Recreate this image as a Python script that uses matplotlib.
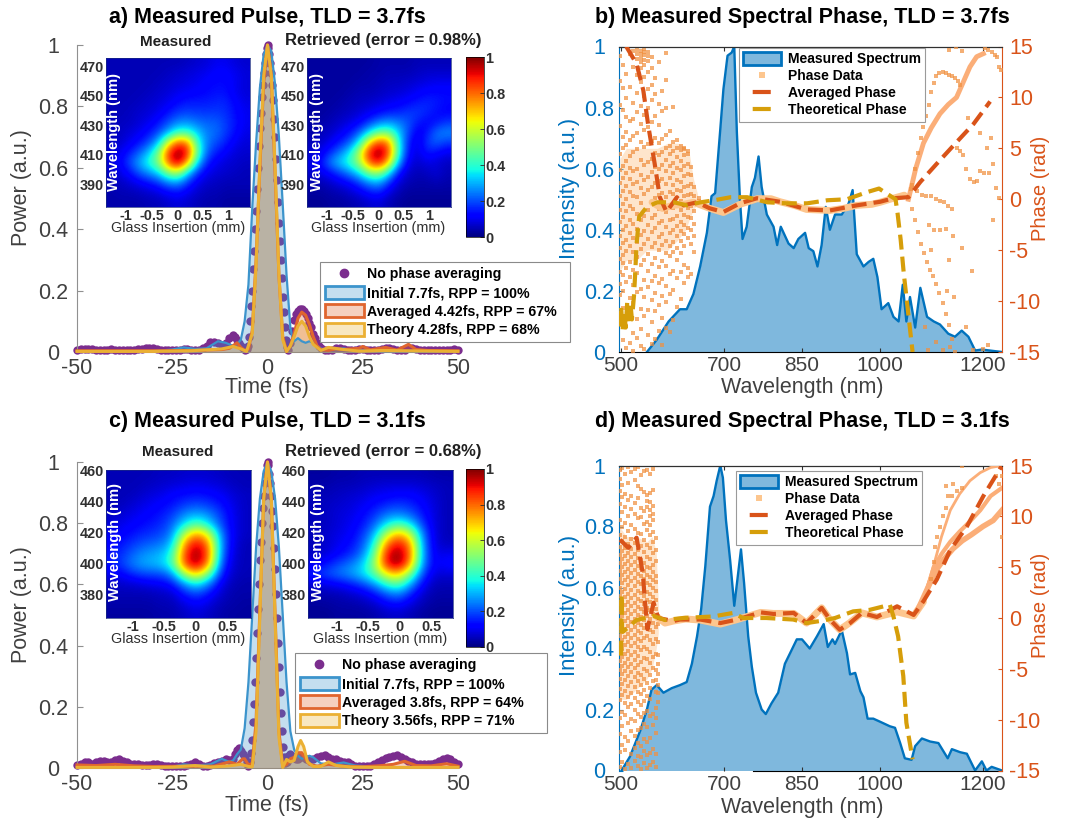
import numpy as np
import matplotlib
matplotlib.use('Agg')
import matplotlib.pyplot as plt
from matplotlib.lines import Line2D
from matplotlib.patches import Patch
from matplotlib.cm import ScalarMappable
from matplotlib.colors import Normalize, to_rgba

plt.rcParams['font.family'] = ['Liberation Sans', 'DejaVu Sans']
plt.rcParams['axes.unicode_minus'] = False

W, H = 1070, 819
BLUE = '#0072BD'; ORANGE = '#D95319'; GOLD = '#D69E0A'
C_INIT = '#3C94CC'; C_AVG = '#E0652E'; C_THE = '#EBB033'; C_PUR = '#7B2D8E'
GRAY = '#404040'
PH_C = '#F09040'

# ---------- pulses (time fs, power) ----------
initial_a = [(-50,.003),(-40,.003),(-30,.003),(-25,.008),(-22,.015),(-19,.01),(-16,.012),(-13,.035),(-11,.03),(-9,.02),(-8,.025),(-7,.04),(-6,.1),(-5,.22),(-4,.47),(-3,.68),(-2,.86),(-1,.97),(0,1),(1,.98),(2,.87),(3,.7),(4,.48),(5,.25),(6,.08),(6.5,.05),(7,.035),(8,.045),(9,.035),(10,.03),(11,.035),(12,.03),(14,.012),(16,.004),(20,.012),(22,.006),(30,.003),(50,.002)]
averaged_a = [(-50,.004),(-30,.004),(-20,.005),(-12,.008),(-10,.012),(-8,.03),(-7,.015),(-6,.005),(-5,.01),(-4,.07),(-3,.3),(-2,.6),(-1,.88),(0,1),(1,.9),(2,.58),(3,.25),(4,.05),(5,.002),(6,.02),(7,.06),(8,.11),(9,.13),(10,.12),(11,.09),(12,.05),(13,.02),(14,.008),(16,.005),(18,.01),(20,.008),(24,.012),(25,.018),(27,.007),(31,.015),(34,.006),(37,.025),(39,.008),(42,.005),(50,.004)]
theory_a = [(-50,.002),(-30,.002),(-20,.004),(-12,.01),(-9,.018),(-7,.01),(-5.5,.002),(-4,.06),(-3,.28),(-2,.62),(-1,.9),(0,1),(1,.9),(2,.6),(3,.25),(4,.04),(5,.002),(6,.02),(7,.05),(8,.085),(9,.1),(10,.085),(11,.05),(12,.025),(14,.005),(16,.015),(20,.008),(24,.003),(30,.005),(50,.002)]
purple_a = [(-50,.008),(-49,.009),(-48,.01),(-47,.01),(-46,.009),(-45,.008),(-44,.008),(-43,.007),(-42,.008),(-41,.009),(-40,.008),(-39,.007),(-38,.007),(-37,.006),(-36,.007),(-35,.008),(-34,.009),(-33,.01),(-32,.012),(-31,.013),(-30,.012),(-29,.01),(-28,.008),(-27,.007),(-26,.006),(-25,.006),(-24,.007),(-23,.008),(-22,.009),(-21,.009),(-20,.008),(-19,.007),(-18,.008),(-17,.012),(-16,.02),(-15,.032),(-14,.034),(-13,.028),(-12,.024),(-11,.03),(-10,.045),(-9,.055),(-8.5,.05),(-8,.04),(-7.5,.028),(-7,.02),(-6.5,.012),(-6,.006),(-5.5,.01),(-5,.02),(-4.75,.05),(-4.5,.1),(-4.25,.15),(-4,.2),(-3.75,.27),(-3.5,.33),(-3.25,.4),(-3,.46),(-2.75,.53),(-2.5,.6),(-2.25,.67),(-2,.73),(-1.75,.78),(-1.5,.83),(-1.25,.87),(-1,.91),(-.75,.94),(-.5,.97),(-.25,.99),(0,1),(.25,.99),(.5,.97),(.75,.94),(1,.91),(1.25,.87),(1.5,.82),(1.75,.76),(2,.7),(2.25,.63),(2.5,.56),(2.75,.49),(3,.42),(3.25,.36),(3.5,.3),(3.75,.24),(4,.18),(4.25,.13),(4.5,.08),(4.75,.04),(5,.015),(5.5,.005),(6,.03),(6.5,.07),(7,.105),(7.5,.125),(8,.135),(8.5,.14),(9,.14),(9.5,.135),(10,.125),(10.5,.11),(11,.095),(11.5,.08),(12,.06),(12.5,.045),(13,.03),(13.5,.02),(14,.012),(15,.008),(16,.006),(17,.008),(18,.012),(19,.012),(20,.01),(21,.008),(22,.006),(23,.007),(24,.009),(25,.01),(26,.008),(27,.006),(28,.006),(29,.007),(30,.01),(31,.012),(32,.012),(33,.01),(34,.007),(35,.006),(36,.008),(37,.012),(38,.012),(39,.009),(40,.007),(41,.006),(42,.006),(43,.007),(44,.007),(45,.006),(46,.006),(47,.007),(48,.008),(49,.009),(50,.008)]

initial_c = [(-50,.003),(-35,.003),(-25,.004),(-22,.012),(-19,.008),(-15,.012),(-12,.03),(-10,.02),(-9,.025),(-8,.045),(-7,.06),(-6,.13),(-5,.28),(-4,.5),(-3,.72),(-2,.88),(-1,.97),(0,1),(1,.97),(2,.88),(3,.72),(4,.5),(5,.28),(6,.12),(7,.06),(8,.04),(9,.03),(10,.035),(11,.04),(12,.035),(14,.015),(17,.012),(20,.018),(23,.008),(30,.003),(50,.002)]
averaged_c = [(-50,.01),(-45,.008),(-40,.012),(-35,.007),(-30,.005),(-20,.006),(-14,.006),(-10,.02),(-8,.012),(-6.5,.03),(-6,.03),(-5,.01),(-4,.015),(-3,.15),(-2,.52),(-1,.88),(0,1),(1,.88),(2,.5),(3,.12),(4,.005),(5,.012),(6,.03),(7,.035),(8,.05),(9,.05),(10,.03),(11,.012),(13,.006),(16,.012),(20,.006),(25,.004),(30,.008),(33,.012),(36,.022),(39,.008),(43,.007),(47,.014),(50,.006)]
theory_c = [(-50,.002),(-30,.002),(-25,.003),(-19,.008),(-15,.003),(-10,.007),(-7,.012),(-5,.005),(-4,.004),(-3,.12),(-2,.5),(-1,.88),(0,1),(1,.88),(2,.48),(3,.1),(4,.002),(5,.028),(6,.02),(7,.025),(8,.07),(8.7,.09),(9.5,.07),(10.5,.02),(12,.005),(14,.005),(16,.02),(18,.008),(22,.003),(30,.002),(50,.002)]
purple_c = [(-50,.01),(-49,.014),(-48,.02),(-47,.018),(-46,.014),(-45,.018),(-44,.024),(-43,.024),(-42,.018),(-41,.02),(-40,.026),(-39,.028),(-38,.024),(-37,.018),(-36,.014),(-35,.012),(-34,.012),(-33,.01),(-32,.009),(-31,.01),(-30,.012),(-29,.012),(-28,.01),(-27,.008),(-26,.007),(-25,.006),(-24,.006),(-23,.007),(-22,.008),(-21,.009),(-20,.012),(-19,.018),(-18,.014),(-17,.008),(-16,.006),(-15,.01),(-14,.016),(-13,.02),(-12,.024),(-11,.028),(-10,.025),(-9,.03),(-8.5,.045),(-8,.06),(-7.5,.065),(-7,.055),(-6.5,.045),(-6,.035),(-5.5,.02),(-5,.008),(-4.5,.02),(-4.25,.05),(-4,.09),(-3.75,.15),(-3.5,.21),(-3.25,.28),(-3,.36),(-2.75,.44),(-2.5,.52),(-2.25,.6),(-2,.68),(-1.75,.74),(-1.5,.8),(-1.25,.85),(-1,.89),(-.75,.93),(-.5,.96),(-.25,.99),(0,1),(.25,.99),(.5,.96),(.75,.93),(1,.89),(1.25,.84),(1.5,.79),(1.75,.72),(2,.65),(2.25,.57),(2.5,.49),(2.75,.41),(3,.33),(3.25,.25),(3.5,.18),(3.75,.12),(4,.07),(4.25,.035),(4.5,.015),(5,.02),(5.5,.04),(6,.045),(6.5,.04),(7,.035),(7.5,.03),(8,.03),(8.5,.035),(9,.035),(10,.03),(11,.026),(12,.028),(13,.035),(14,.04),(15,.042),(16,.036),(17,.03),(18,.028),(19,.022),(20,.02),(21,.018),(22,.012),(23,.008),(24,.007),(25,.006),(26,.007),(27,.008),(28,.012),(29,.018),(30,.026),(31,.032),(32,.036),(33,.04),(34,.042),(35,.036),(36,.028),(37,.022),(38,.018),(39,.014),(40,.012),(41,.012),(42,.012),(43,.014),(44,.016),(45,.024),(46,.03),(47,.032),(48,.028),(49,.02),(50,.014)]

# ---------- spectra (wavelength nm, intensity) ----------
spectrum_b = [(550,0),(569,.04),(592,.10),(614,.14),(627,.14),(640,.19),(653,.28),(666,.39),(675,.51),(682,.52),(692,.73),(698,.86),(706,.97),(714,.98),(719,1),(724,.72),(730,.5),(735,.37),(743,.41),(753,.54),(759,.57),(766,.64),(772,.54),(782,.45),(795,.41),(802,.35),(809,.41),(824,.355),(834,.34),(843,.37),(856,.39),(863,.34),(872,.33),(880,.28),(888,.35),(896,.475),(904,.40),(914,.45),(927,.45),(940,.485),(948,.53),(956,.32),(969,.28),(979,.295),(988,.305),(996,.245),(1004,.14),(1017,.16),(1027,.115),(1037,.10),(1045,.22),(1052,.10),(1059,.18),(1069,.08),(1079,.21),(1092,.115),(1105,.10),(1117,.09),(1133,.06),(1146,.05),(1159,.07),(1172,.05),(1185,.005),(1198,.008),(1237,0)]
spectrum_d = [(501,0),(517,.045),(537,.13),(550,.2),(559,.265),(569,.28),(582,.255),(598,.27),(614,.28),(627,.29),(637,.35),(647,.44),(655,.53),(663,.67),(672,.865),(679,.90),(685,.95),(692,1),(697,.96),(703,.82),(711,.69),(719,.54),(725,.625),(732,.725),(738,.615),(746,.44),(753,.34),(761,.255),(772,.2),(780,.185),(791,.22),(804,.255),(817,.35),(830,.395),(840,.43),(850,.43),(865,.40),(879,.44),(892,.48),(900,.405),(909,.43),(914,.415),(927,.46),(937,.385),(943,.315),(953,.32),(963,.26),(969,.24),(977,.17),(988,.17),(1001,.16),(1020,.145),(1030,.14),(1040,.09),(1049,.04),(1062,.035),(1069,.08),(1082,.105),(1098,.095),(1114,.09),(1132,.04),(1140,.07),(1156,.06),(1169,.055),(1185,0),(1198,.03),(1207,0),(1217,.012),(1237,0)]

# ---------- phases (wavelength nm, rad) ----------
avg_phase_b = [(510,15),(530,13.3),(543,10.7),(553,7.1),(565,3.5),(575,.2),(588,-1.25),(608,.2),(621,-.6),(647,-.3),(672,-.9),(698,-1.25),(730,-.4),(763,.1),(808,-.25),(859,-1),(904,-1.1),(956,-.6),(1001,-.25),(1027,.1),(1056,.2),(1079,1.7),(1111,3.5),(1149,5.6),(1182,7.4),(1214,9.6)]
the_phase_b = [(498,-12.5),(500,-10.5),(503,-12.8),(506,-11),(509,-12.6),(512,-10),(515,-12.3),(518,-10.2),(521,-11.8),(525,-9.5),(527,-7.6),(530,-4.4),(535,-1.7),(550,-.75),(570,-.3),(602,-.3),(628,-.6),(654,-.3),(680,-.1),(712,.2),(744,.2),(783,-.3),(821,-.4),(860,-.4),(899,-.1),(937,0),(976,.7),(999,1.05),(1031,0),(1035,-1.4),(1041,-4),(1047,-7.3),(1054,-10.5),(1064,-15)]
avg_phase_d = [(498,7.7),(514,6.9),(530,7.9),(542,4.4),(546,1.8),(551,-1.1),(563,1.5),(572,0),(601,-.3),(614,-.15),(653,-.15),(692,-.5),(725,-.15),(770,.55),(795,.4),(834,.5),(859,-.5),(888,1),(904,-.15),(923,-1.15),(943,-.5),(966,.5),(995,.1),(1034,1.15),(1066,.3),(1085,1.65),(1111,3.8),(1137,6.7),(1169,9),(1201,12),(1237,15)]
the_phase_d = [(500,-3.7),(501,2.3),(502,-1.3),(505,-1.3),(530,-.2),(563,.2),(585,-.2),(620,0),(678,.15),(717,.5),(736,0),(781,0),(833,-.15),(859,-.5),(891,-.25),(914,0),(949,.65),(981,.8),(1020,1.3),(1027,.15),(1036,-1.8),(1046,-5.7),(1052,-10.3),(1064,-13.9)]
band_b = [(560,-.3),(580,-.9),(600,-.6),(620,-.5),(640,-.3),(672,-.9),(698,-1.3),(730,-.5),(763,.05),(790,.05),(808,-.25),(835,-.6),(859,-1),(904,-1.1),(930,-.9),(956,-.6),(985,-.5),(1001,-.3),(1027,.1),(1048,.4)]
band_d = [(570,.1),(585,-.5),(601,-.3),(625,-.1),(653,-.2),(692,-.6),(725,-.15),(770,.55),(795,.45),(834,.45),(859,-.5),(888,1),(904,-.15),(923,-1.15),(943,-.45),(966,.5),(995,.1),(1034,.6),(1066,.2),(1085,1.6)]
# dense part of the phase data at short wavelength (wavelength, low, high)
mass_b = [(498,-7,4),(510,-6,5),(530,-6,5),(550,-5,5),(570,-5,5),(590,-5,5.5),(610,-4,5.5),(625,-3,5),(632,-2,4.5),(640,-1,2),(648,-.5,.5)]
mass_d = [(497,-8,9),(510,-8,8),(530,-7,8),(550,-6,7.5),(560,-5,8),(568,-3,6.5),(572,-1.5,1.5)]

# phase data: dense traces on the long-wavelength side
trace_b_up = [(1056,0),(1070,3),(1085,5.5),(1100,7),(1117,8.4),(1133,9.3),(1149,10),(1162,11.5),(1175,13),(1188,14),(1201,14.3)]
trace_b_down = [(1056,.2),(1062,-1),(1068,-2),(1074,-3.2),(1080,-4.4),(1086,-5.3),(1092,-6.2),(1098,-6.9),(1104,-7.5),(1110,-8.3),(1116,-9.2),(1122,-10.2),(1128,-11.3),(1134,-12.3),(1140,-13.7),(1146,-15)]
trace_b_loop = [(1062,1.4),(1068,3),(1074,4.5),(1080,6),(1085,7.1),(1090,8.2),(1095,9.3),(1100,10.5),(1105,11.4),(1110,12.1),(1116,12.4),(1122,12.5),(1128,12.4),(1134,12.2),(1140,12.1),(1146,11.9),(1152,11.6),(1156,11.2)]
trace_b_low = [(1149,5),(1156,4.7),(1162,4.3),(1168,3),(1175,2),(1182,1.7),(1188,1.8),(1195,2.8),(1203,2.6),(1212,2.6),(1220,3.5),(1226,1.1),(1232,.1)]
sparse_b = [(1060,1),(1072,.8),(1082,.4),(1090,.3),(1100,.3),(1110,0),(1118,-.2),(1125,-.3),(1132,-.7),(1095,-2.5),(1106,-3),(1118,-3),(1128,-2.9),(1142,-3.6),(1160,-4.8),(1178,-7),(1100,-5),(1135,-6),(1145,-9.6),(1168,-12.5),(1200,-14.7),(1210,-14.3),(1220,-2),(1215,6),(1228,14),(1232,13),(1236,12.7),(1210,14.7),(1218,14.5),(1224,14.2),(1205,14.9),(1180,-14.8),(1148,15),(1135,14.7),(1160,14.6),(1172,8),(1195,6.5),(1208,5),(1140,-1),(1130,-9),(1137,-14.5),(1110,-14),(1123,-14.8),(1088,-12.5),(1094,-14.8)]
trace_d_up = [(1066,.3),(1079,1),(1092,3),(1105,5.2),(1120,8),(1137,10.6),(1155,12.2),(1175,13.5),(1195,14.3),(1215,14.8),(1237,15)]
trace_d_mid = [(1074,.8),(1092,2.8),(1105,5),(1120,6.3),(1137,7.5),(1155,8.5),(1175,9.5),(1195,10.6),(1215,12),(1237,12.8)]
trace_d_low = [(1074,.8),(1092,2.8),(1108,4.6),(1125,5.8),(1142,6.8),(1160,7.6),(1178,8.2),(1200,9),(1220,9.6),(1237,10.6)]
sparse_d = [(1100,3.8),(1105,5.5),(1108,7),(1112,8),(1118,9),(1122,10),(1128,10.8),(1133,12),(1128,13),(1143,13.2),(1150,12.5),(1160,12.8),(1237,8),(1237,14),(1232,13.2),(1226,14),(1160,15),(1140,12)]

# phase data: scattered columns at short wavelength, {wavelength: phases}
cols_b = {
 498:[-11.5,-9.4,-8.3,-7.1,-5.9,-4.8,-3.6,-2.2,-1.1,.3,1.6,2.9,4.4,7.2,9.3,11.6,14.1],
 503:[-13.8,-10.7,-9,-7.4,-6.3,-5.5,-4.3,-3,-1.7,-.5,.8,2.1,3.3,5,6.1,8.8,10.9,13.2],
 510:[-14.6,-12.4,-8.1,-6.8,-5.1,-4,-2.6,-1.2,0,1.3,2.6,3.8,5.3,6.6,8.1,9.9,12.3],
 517:[-14.1,-11.2,-9.7,-7.6,-6.2,-4.6,-3.3,-2,-.7,.7,2,3.1,4.2,5.8,7.7,11,14.3],
 524:[-14.9,-13.1,-10.2,-8.4,-6.9,-5.2,-3.8,-2.4,-1,.3,1.5,2.8,4.6,6.2,7.9,9.5,13,14.6],
 531:[-13.6,-11.8,-9.1,-7.2,-5.7,-4.2,-2.9,-1.4,.2,1.7,3,4.9,6.5,8.6,10.4,12.2,13.8,14.3,14.7],
 538:[-14.4,-12.7,-10.8,-8.8,-6.5,-4.9,-3.5,-2,-.4,1.1,2.4,3.9,5.6,7.4,9.2,11.5,12.9,13.5,13.9,14.3,14.6],
 545:[-14.7,-11.5,-9.6,-7.9,-6,-4.4,-3.1,-1.6,.5,1.9,3.4,5.1,6.8,8.3,10.1,12,13.2,13.7,14.2,14.5,14.8],
 552:[-13.3,-10.9,-8.6,-7,-5.4,-3.9,-2.5,-1.1,.9,2.2,3.7,5.4,7.1,9,10.8,12.5,13.6,14.1,14.5],
 559:[-14.2,-12.1,-9.9,-8,-6.4,-4.7,-3.2,-1.8,-.3,1.2,2.7,4,5.7,7.6,9.7,11.2,12.9,14],
 566:[-13.7,-11,-9.2,-7.5,-5.8,-4.3,-2.8,-1.5,.1,1.6,3.2,4.5,6,8.2,10.3,11.9],
 573:[-12.9,-10.4,-8.2,-6.7,-5,-3.7,-2.3,-1,.4,1.8,3,4.3,5.5,7.3,9.4,13.5],
 580:[-14.3,-11.7,-9.5,-7.8,-6.1,-4.5,-3.4,-2.1,-.8,.6,2,3.4,4.6,5.9,8.7,10.6],
 587:[-12.6,-10.1,-8.5,-6.6,-5.3,-4.1,-2.7,-1.3,.2,1.5,2.8,3.9,5,6.3,9,11.7,14.4],
 594:[-13,-9.3,-7.3,-5.6,-4.6,-3.3,-2,-.6,.7,2.1,3.3,4.4,5.2,6.7],
 601:[-11.9,-8.9,-7,-5.2,-4.2,-3,-1.9,-.9,.5,1.4,2.6,3.6,4.7,5.6,9.1],
 608:[-10.6,-7.7,-6,-4.8,-3.6,-2.6,-1.6,-.5,.9,1.9,3.1,4.1,5,5.8],
 615:[-9.8,-7.1,-5.3,-4.1,-3.1,-2.2,-1.1,-.2,.8,1.7,2.9,3.8,4.8,5.2],
 622:[-8.2,-6.5,-4.6,-3.4,-2.5,-1.5,-.6,.3,1.2,2.3,3.3,4.3,4.9,5],
 629:[-7.6,-6.8,-3.8,-2.8,-1.7,-.9,.4,1.3,2.5,3.5,4.4,4.7],
 636:[-7.3,-4.4,-3,-1.8,-.7,.5,1.5,2.4,3.2],
 642:[-5.2,-3.6,-2.4,-1.2,-.5,.3,1.2],
 650:[-.6,-.2,.1],
}
cols_d = {
 497:[-14.7,-13.2,-11.4,-9.8,-8.1,-7,-6,-5.1,-4.2,-3.4,-2.6,-1.8,-1,-.2,.6,1.4,2.2,3,3.8,4.6,5.4,6.2,7,8.2,9.6,11.2,12.5,13.7,14.6],
 502:[-14.2,-12.5,-10.6,-9.2,-7.6,-6.5,-5.5,-4.7,-3.8,-3,-2.2,-1.4,-.6,.2,1,1.8,2.6,3.4,4.2,5,5.8,6.6,7.6,9,10.4,11.9,13.1,14.8],
 508:[-14.9,-13,-11.7,-9.5,-8.4,-7.2,-6.1,-5.2,-4.4,-3.5,-2.7,-1.9,-1.1,-.3,.5,1.3,2.1,2.9,3.7,4.5,5.3,6.1,6.9,8,9.3,10.9,12.2,14.2],
 514:[-14.4,-12.1,-10.3,-8.8,-7.8,-6.7,-5.7,-4.8,-4,-3.2,-2.4,-1.6,-.8,0,.8,1.6,2.4,3.2,4,4.8,5.6,6.4,7.3,8.6,10,11.6,13.3,14.9],
 520:[-14.8,-13.4,-11.1,-9.9,-8.5,-7.4,-6.3,-5.3,-4.5,-3.6,-2.8,-2,-1.2,-.4,.4,1.2,2,2.8,3.6,4.4,5.2,6,6.8,7.8,9.1,10.7,12,14.4],
 526:[-14.1,-12.8,-11.6,-10.1,-9,-7.9,-6.8,-5.8,-4.9,-4.1,-3.3,-2.5,-1.7,-.9,-.1,.7,1.5,2.3,3.1,3.9,4.7,5.5,6.3,7.4,8.8,10.2,11.3,13.6,14.7],
 532:[-14.6,-13.6,-12.3,-11,-9.4,-8.3,-7.3,-6.2,-5.4,-4.6,-3.7,-2.9,-2.1,-1.3,-.5,.3,1.1,1.9,2.7,3.5,4.3,5.1,5.9,6.7,8.4,9.8,11.8,13,14.9],
 538:[-14.9,-13.7,-12.6,-10.8,-9.7,-8.6,-7.5,-6.6,-5.6,-4.3,-3.1,-2.3,-1.5,-.7,.1,.9,1.7,2.5,3.3,4.1,4.9,5.7,7.1,8.3,9.9,10.8,12.7,14.1],
 544:[-14.3,-13.1,-11.9,-10.4,-9.3,-8.2,-7.1,-6,-5,-3.9,-2.9,-2,-1,-.2,.6,1.4,2.2,3,3.8,4.6,5.4,6.5,7.7,9.2,10.5,12.4,14.5],
 550:[-14.8,-13.5,-12.2,-10.7,-9.1,-7.7,-6.4,-5.2,-4,-3,-1.8,-.9,.2,1,1.8,2.6,3.4,4.2,5,6,7.2,8.7,9.4,10.9,11.5,12.1,14.6],
 556:[-14.5,-13.3,-11.8,-9.6,-8,-6.9,-5.6,-4.4,-3.3,-2.2,-1.2,-.1,.8,1.6,2.4,3.2,4,4.9,5.8,6.9,8.2,9.1,10,10.6,11.4,12.3,14.2],
 562:[-14.2,-12.9,-10.5,-9.4,-6.2,-4.9,-3.8,-2.6,-1.4,-.5,.4,1.3,2.1,3,3.7,4.5,5.2,6.4,7.5,8.5,9.6,10.2,11,12.6,14.7],
 567:[-14.7,-13.4,-11.3,-9.8,-8.9,-7.3,-6.1,-5.1,-3.5,-2.1,-.9,.1,.9,1.8,2.7,3.5,4.1,5.6,6.7,7.9],
 572:[-8.3,-7.4,-6.6,-5.5,-4.5,-3.6,-2.4,-.6,.2],
}

# ---------- heatmaps ----------
meas_a = [[.05,.05,.05,.05,.05,.05,.05,.05,.06,.07,.08,.10,.10,.08,.07],
[.05,.05,.05,.05,.05,.05,.06,.07,.08,.09,.10,.12,.12,.10,.08],
[.05,.05,.05,.05,.05,.06,.07,.08,.09,.10,.12,.13,.13,.10,.08],
[.05,.05,.05,.05,.06,.07,.08,.10,.11,.12,.13,.14,.14,.10,.08],
[.05,.05,.05,.06,.07,.08,.10,.13,.15,.15,.15,.16,.16,.12,.09],
[.05,.05,.06,.07,.08,.10,.14,.18,.19,.18,.18,.18,.17,.13,.10],
[.05,.06,.06,.08,.10,.14,.20,.26,.27,.24,.22,.22,.18,.14,.10],
[.05,.06,.08,.10,.14,.20,.30,.42,.42,.33,.25,.23,.18,.13,.09],
[.06,.07,.10,.14,.20,.32,.62,.82,.78,.42,.25,.2,.15,.1,.08],
[.07,.10,.15,.22,.32,.50,.86,1.0,.9,.48,.22,.15,.11,.08,.07],
[.08,.12,.20,.30,.40,.52,.82,.97,.74,.35,.16,.10,.08,.07,.06],
[.06,.09,.14,.22,.28,.36,.52,.58,.35,.18,.10,.08,.07,.06,.05],
[.05,.06,.08,.11,.14,.18,.26,.28,.18,.10,.07,.06,.05,.05,.05],
[.04,.05,.05,.06,.07,.09,.12,.14,.10,.07,.05,.05,.04,.04,.04],
[.04,.04,.04,.04,.05,.05,.07,.08,.07,.05,.04,.04,.03,.03,.03]]
retr_a = [[.03,.03,.03,.03,.03,.03,.03,.04,.04,.04,.04,.05,.05,.05,.05],
[.03,.03,.03,.03,.03,.03,.04,.04,.05,.05,.05,.06,.07,.07,.07],
[.03,.03,.03,.03,.03,.04,.04,.05,.06,.06,.07,.08,.09,.10,.10],
[.03,.03,.03,.03,.04,.05,.05,.06,.07,.08,.09,.11,.13,.13,.13],
[.03,.03,.03,.04,.05,.06,.07,.08,.10,.11,.13,.15,.16,.15,.13],
[.03,.03,.04,.05,.06,.08,.10,.13,.15,.16,.18,.18,.16,.13,.12],
[.03,.04,.05,.07,.09,.12,.18,.25,.28,.25,.21,.15,.12,.14,.18],
[.04,.05,.07,.10,.14,.22,.36,.48,.48,.34,.20,.10,.14,.24,.26],
[.05,.07,.10,.15,.22,.38,.68,.85,.78,.40,.16,.08,.18,.22,.18],
[.07,.10,.17,.25,.36,.58,.90,1.0,.85,.42,.14,.08,.15,.13,.10],
[.09,.14,.26,.34,.42,.56,.82,.92,.7,.32,.10,.07,.09,.08,.06],
[.07,.10,.14,.2,.27,.37,.52,.55,.38,.15,.07,.05,.06,.08,.05],
[.04,.05,.07,.1,.13,.19,.27,.3,.18,.08,.05,.04,.04,.05,.04],
[.03,.03,.04,.05,.07,.10,.14,.16,.09,.05,.03,.03,.03,.03,.03],
[.02,.02,.03,.03,.04,.05,.07,.08,.05,.03,.02,.02,.02,.02,.02]]
meas_c = [[.05,.05,.05,.05,.06,.06,.07,.07,.07,.06,.05,.05],
[.05,.05,.05,.06,.07,.08,.09,.10,.09,.08,.06,.05],
[.05,.05,.06,.08,.09,.12,.13,.14,.13,.11,.08,.06],
[.05,.06,.08,.10,.12,.14,.18,.2,.18,.14,.09,.06],
[.06,.08,.10,.12,.14,.18,.26,.3,.26,.18,.10,.06],
[.08,.10,.12,.14,.16,.22,.36,.46,.36,.2,.10,.06],
[.10,.12,.15,.17,.19,.26,.58,.76,.62,.26,.10,.06],
[.12,.15,.19,.22,.24,.32,.76,.94,.78,.28,.09,.05],
[.14,.18,.24,.28,.3,.4,.84,1.0,.82,.26,.08,.05],
[.14,.2,.27,.3,.32,.42,.84,.98,.76,.22,.07,.05],
[.10,.13,.18,.2,.2,.27,.56,.72,.5,.16,.06,.05],
[.06,.07,.08,.1,.11,.14,.28,.38,.26,.1,.05,.04],
[.05,.05,.05,.05,.06,.07,.15,.2,.14,.07,.04,.04],
[.04,.04,.04,.04,.05,.05,.09,.12,.09,.05,.04,.03],
[.03,.03,.03,.03,.04,.04,.06,.08,.06,.04,.03,.03]]
retr_c = [[.03,.03,.04,.04,.05,.05,.05,.05,.05,.05,.04,.04],
[.04,.04,.05,.05,.06,.07,.08,.08,.08,.07,.06,.05],
[.05,.05,.06,.07,.08,.10,.11,.12,.12,.10,.07,.05],
[.05,.06,.07,.08,.10,.13,.16,.18,.16,.12,.08,.05],
[.05,.06,.08,.09,.12,.17,.24,.26,.22,.14,.08,.05],
[.05,.06,.08,.10,.14,.22,.36,.45,.36,.18,.08,.05],
[.05,.07,.09,.11,.17,.3,.58,.74,.6,.24,.08,.05],
[.05,.07,.10,.13,.2,.38,.78,.92,.76,.27,.08,.06],
[.06,.08,.12,.16,.24,.46,.9,1,.8,.28,.09,.1],
[.09,.14,.19,.24,.32,.52,.9,1,.74,.26,.1,.13],
[.16,.2,.24,.28,.34,.46,.66,.72,.5,.19,.08,.08],
[.08,.1,.12,.15,.2,.28,.42,.48,.3,.12,.05,.05],
[.04,.05,.05,.07,.09,.14,.22,.27,.16,.07,.04,.04],
[.03,.03,.04,.04,.05,.07,.12,.14,.09,.05,.03,.03],
[.02,.02,.03,.03,.03,.04,.06,.07,.05,.03,.02,.02]]

power_ticks = [0,.2,.4,.6,.8,1]; power_labels = ['0','0.2','0.4','0.6','0.8','1']
time_ticks = [-50,-25,0,25,50]
wl_ticks = [500,700,850,1000,1200]
phase_ticks = [-15,-10,-5,0,5,10,15]
ins_a_x = [-1,-.5,0,.5,1]; ins_a_xl = ['-1','-0.5','0','0.5','1']
ins_a_y = [390,410,430,450,470]
ins_c_x = [-1,-.5,0,.5]; ins_c_xl = ['-1','-0.5','0','0.5']
ins_c_y = [380,400,420,440,460]

fig = plt.figure(figsize=(W/100, H/100), dpi=100)

def axpx(l, t, r, b, **kw):
    return fig.add_axes([l/W, 1-b/H, (r-l)/W, (b-t)/H], **kw)

def ftext(x, y, s, **kw):
    kw.setdefault('ha', 'center'); kw.setdefault('va', 'center')
    return fig.text(x/W, 1-y/H, s, **kw)

def xy(p):
    a = np.array(p, float)
    return a[:, 0], a[:, 1]

def pulse_panel(box, series, purple, ylab_y, leg_box, labels, xlab_y):
    l, t, r, b = box
    ax = axpx(l, t, r, b)
    ax.set_xlim(-50, 50); ax.set_ylim(0, 1)
    px, py = xy(purple)
    ax.plot(px, py, 'o', color=C_PUR, ms=6, mew=0, clip_on=False, zorder=2)
    # fills: the blue one goes last, so the overlap turns grey
    for data, c, lw in series[::-1]:
        x, y = xy(data)
        ax.fill_between(x, 0, y, color=c, alpha=.3, lw=0, zorder=3)
    for data, c, lw in series:
        x, y = xy(data)
        ax.plot(x, y, color=c, lw=lw, clip_on=False, zorder=4)
    for s in ('top', 'right'):
        ax.spines[s].set_visible(False)
    for s in ('left', 'bottom'):
        ax.spines[s].set_color('#909090')
    ax.set_xticks(time_ticks); ax.set_yticks(power_ticks); ax.set_yticklabels(power_labels)
    ax.tick_params(axis='x', direction='in', length=0, labelsize=15.5, labelcolor=GRAY, pad=4)
    ax.tick_params(axis='y', direction='in', length=4, color='#909090', labelsize=15.5, labelcolor=GRAY, pad=17)
    for tl in ax.get_yticklabels():
        tl.set_ha('center')
    ftext(267, xlab_y, 'Time (fs)', fontsize=15.5, color=GRAY)
    ftext(22, ylab_y, 'Power (a.u.)', rotation=90, fontsize=15.5, color=GRAY)
    handles = [Line2D([], [], ls='', marker='o', ms=6, color=C_PUR),
               Patch(fc=to_rgba(C_INIT, .3), ec=C_INIT, lw=2),
               Patch(fc=to_rgba(C_AVG, .3), ec=C_AVG, lw=2),
               Patch(fc=to_rgba(C_THE, .3), ec=C_THE, lw=2)]
    x0, y0, x1 = leg_box
    leg = ax.legend(handles, labels, loc='upper left', mode='expand',
                    bbox_to_anchor=(x0/W, 1-y0/H, (x1-x0)/W, 0),
                    bbox_transform=fig.transFigure, prop={'weight': 'bold', 'size': 10.2},
                    fancybox=False, edgecolor='#8a8a8a', framealpha=1, handlelength=2.75,
                    handleheight=1.05, labelspacing=.3, borderpad=.35, borderaxespad=0, handletextpad=.2)
    leg.get_frame().set_linewidth(.8)
    leg.set_zorder(10)
    return ax

def inset(box, grid, xlim, ylim, xt, xtl, yt, gl_y, lab_x, lab_y, wl_off):
    l, t, r, b = box
    ax = axpx(l, t, r, b)
    im = ax.imshow(np.array(grid), extent=[xlim[0], xlim[1], ylim[0], ylim[1]], origin='upper',
                   aspect='auto', cmap='jet', vmin=0, vmax=1, interpolation='bicubic')
    ax.set_xticks(xt); ax.set_xticklabels(xtl, fontweight='bold', color='#303030')
    ax.set_yticks(yt); ax.set_yticklabels([str(v) for v in yt], fontweight='bold', color='#303030')
    ax.tick_params(length=0, labelsize=10.4, pad=1.5)
    for s in ax.spines.values():
        s.set_linewidth(.5); s.set_color('#1a2a80')
    ftext(lab_x, gl_y, 'Glass Insertion (mm)', fontsize=10.4, color='#303030')
    ftext(l+wl_off, lab_y, 'Wavelength (nm)', rotation=90, fontsize=10.6, fontweight='bold', color='white')
    return im

def cbar(box):
    cax = axpx(*box)
    cb = fig.colorbar(ScalarMappable(Normalize(0, 1), 'jet'), cax=cax, ticks=power_ticks)
    cb.ax.set_yticklabels(power_labels, fontweight='bold', color='#303030')
    cb.ax.tick_params(direction='in', length=3, width=.6, labelsize=10.4, pad=1, color='#303030')
    cb.outline.set_linewidth(.5)

def scatter_cols(ax, cols):
    xs = [w for w, v in cols.items() for _ in v]
    ys = [p for v in cols.values() for p in v]
    ax.scatter(xs, ys, marker='s', s=8, color=PH_C, alpha=.72, lw=0, zorder=2)

def phase_panel(box, spec, band, mass, traces, sparse, cols, avg, the, leg_xy, ylab_x, lab_y, wl_y, bottom_from=None):
    l, t, r, b = box
    ax = axpx(l, t, r, b)
    ax.set_xlim(496, 1237); ax.set_ylim(0, 1)
    x, y = xy(spec)
    ax.fill_between(x, 0, y, color=BLUE, alpha=.5, lw=0)
    ax.plot(x, y, color=BLUE, lw=1.7)
    ax.set_xticks(wl_ticks); ax.set_yticks(power_ticks); ax.set_yticklabels(power_labels)
    ax.tick_params(axis='x', direction='in', top=True, length=3, labelsize=15, labelcolor=GRAY, pad=3, color='#303030')
    ax.tick_params(axis='y', direction='in', length=3, labelsize=15.5, labelcolor=BLUE, pad=14.5, color=BLUE)
    for tl in ax.get_yticklabels():
        tl.set_ha('center')
    ax.spines['left'].set_color(BLUE)
    ax.spines['right'].set_visible(False)
    if bottom_from:
        ax.spines['bottom'].set_bounds(bottom_from, 1237)
    ftext(ylab_x, lab_y, 'Intensity (a.u.)', rotation=90, fontsize=16, color=BLUE)
    ftext(802, wl_y, 'Wavelength (nm)', fontsize=15.5, color=GRAY)
    ax2 = ax.twinx()
    ax2.set_ylim(-15, 15); ax2.set_yticks(phase_ticks); ax2.set_yticklabels([str(v) for v in phase_ticks])
    ax2.tick_params(axis='y', direction='in', length=3, labelsize=15.5, labelcolor=ORANGE, pad=5, color=ORANGE)
    ax2.spines['right'].set_color(ORANGE); ax2.spines['left'].set_visible(False)
    ax2.spines['top'].set_color('#303030'); ax2.spines['bottom'].set_visible(False)
    m = np.array(mass, float)
    ax2.fill_between(m[:, 0], m[:, 1], m[:, 2], color='#FDC68E', alpha=.45, lw=0, zorder=1)
    scatter_cols(ax2, cols)
    bx, by = xy(band)
    ax2.plot(bx, by, color='#FDC68E', lw=5, zorder=3, solid_capstyle='round')
    for tr, lw in traces:
        tx, ty = xy(tr)
        if lw:
            ax2.plot(tx, ty, color='#FBAE78', lw=lw, zorder=3)
        else:
            ax2.scatter(tx, ty, marker='s', s=8, color=PH_C, alpha=.72, lw=0, zorder=3)
    sx, sy = xy(sparse)
    ax2.scatter(sx, sy, marker='s', s=8, color=PH_C, alpha=.72, lw=0, zorder=3)
    ax_, ay = xy(avg)
    ax2.plot(ax_, ay, color=ORANGE, lw=3, dashes=(3.6, 1.7), zorder=5)
    tx, ty = xy(the)
    ax2.plot(tx, ty, color=GOLD, lw=3, dashes=(3.6, 1.7), zorder=6)
    one_dash = (12, (4.33, 10))
    handles = [Patch(fc=to_rgba(BLUE, .5), ec=BLUE, lw=2),
               Line2D([], [], ls='', marker='s', ms=4.5, mew=0, color='#FDC68E'),
               Line2D([], [], color=ORANGE, lw=3, linestyle=one_dash),
               Line2D([], [], color=GOLD, lw=3, linestyle=one_dash)]
    labels = ['Measured Spectrum', 'Phase Data', 'Averaged Phase', 'Theoretical Phase']
    leg = ax2.legend(handles, labels, loc='upper left', bbox_to_anchor=(leg_xy[0]/W, 1-leg_xy[1]/H),
                     bbox_transform=fig.transFigure, prop={'weight': 'bold', 'size': 10},
                     fancybox=False, edgecolor='#9a9a9a', framealpha=1, handlelength=2.75,
                     handleheight=1.0, labelspacing=.22, borderpad=.3, borderaxespad=0, handletextpad=.45)
    leg.get_frame().set_linewidth(.8)
    leg.set_zorder(10)
    ftext(1041, lab_y, 'Phase (rad)', rotation=90, fontsize=14.5, color=ORANGE)

# ---- Panel a
pulse_panel((77, 45, 458, 352),
            [(initial_a, C_INIT, 1.6), (averaged_a, C_AVG, 2.2), (theory_a, C_THE, 2.2)], purple_a, 188, (320, 262, 570),
            ['No phase averaging', 'Initial 7.7fs, RPP = 100%', 'Averaged 4.42fs, RPP = 67%', 'Theory 4.28fs, RPP = 68%'], 387)
inset((106, 58, 250, 207), meas_a, (-1.39, 1.43), (374.5, 475.7), ins_a_x, ins_a_xl, ins_a_y, 228, 178, 132, 8)
inset((307, 58, 451, 207), retr_a, (-1.39, 1.43), (374.5, 475.7), ins_a_x, ins_a_xl, ins_a_y, 228, 378, 132, 10)
cbar((466, 57, 484, 237))
ftext(176, 42, 'Measured', fontsize=11, fontweight='bold', color='#202020')
ftext(383, 41, 'Retrieved (error = 0.98%)', fontsize=12, fontweight='bold', color='#202020')

# ---- Panel c
pulse_panel((77, 462, 458, 768),
            [(initial_c, C_INIT, 1.6), (averaged_c, C_AVG, 2.2), (theory_c, C_THE, 2.2)], purple_c, 605, (295, 653, 547),
            ['No phase averaging', 'Initial 7.7fs, RPP = 100%', 'Averaged 3.8fs, RPP = 64%', 'Theory 3.56fs, RPP = 71%'], 805)
inset((106, 470, 251, 618), meas_c, (-1.42, .87), (365, 460), ins_c_x, ins_c_xl, ins_c_y, 639, 178, 542, 9)
inset((308, 470, 453, 618), retr_c, (-1.45, .84), (365, 460), ins_c_x, ins_c_xl, ins_c_y, 639, 380, 542, 10)
cbar((466, 469, 484, 647))
ftext(178, 452, 'Measured', fontsize=11, fontweight='bold', color='#202020')
ftext(383, 451, 'Retrieved (error = 0.68%)', fontsize=12, fontweight='bold', color='#202020')

# ---- Panels b, d
phase_panel((619, 46.5, 1002, 352), spectrum_b, band_b, mass_b,
            [(trace_b_up, 3.5), (trace_b_loop, 0), (trace_b_down, 0), (trace_b_low, 0)], sparse_b, cols_b,
            avg_phase_b, the_phase_b, (739, 48), 569, 188, 388)
phase_panel((619, 465.5, 1002, 770.5), spectrum_d, band_d, mass_d,
            [(trace_d_up, 2), (trace_d_mid, 3), (trace_d_low, 4)], sparse_d, cols_d,
            avg_phase_d, the_phase_d, (736, 471), 569, 605, 807, bottom_from=755)

# ---- titles
TITLE = dict(fontsize=15.5, fontweight='bold', color='black')
ftext(267, 18, 'a) Measured Pulse, TLD = 3.7fs', **TITLE)
ftext(802, 18, 'b) Measured Spectral Phase, TLD = 3.7fs', **TITLE)
ftext(267, 422, 'c) Measured Pulse, TLD = 3.1fs', **TITLE)
ftext(802, 422, 'd) Measured Spectral Phase, TLD = 3.1fs', **TITLE)

fig.savefig('out.png', dpi=100)
